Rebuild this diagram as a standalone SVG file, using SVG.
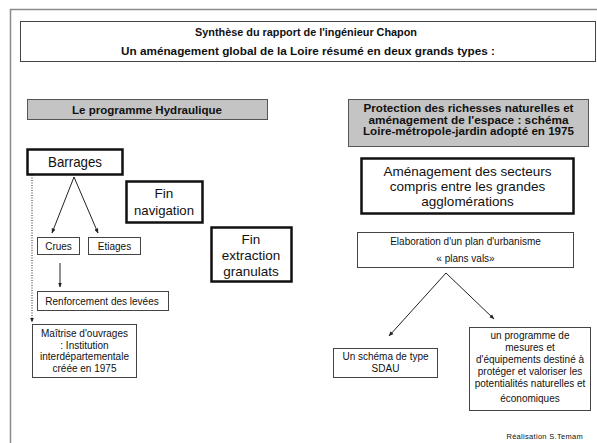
<svg xmlns="http://www.w3.org/2000/svg" width="597" height="443" viewBox="0 0 597 443">
<style>
.t{font-family:"Liberation Sans",Arial,sans-serif;fill:#111;text-anchor:middle}
.b{font-weight:bold}
.thin{fill:#fff;stroke:#444;stroke-width:1}
.thick{fill:#fff;stroke:#111;stroke-width:2.5}
.gray{fill:#c4c4c4;stroke:#555;stroke-width:1}
.ln{stroke:#222;stroke-width:1;fill:none}
</style>
<defs>
<marker id="ah" viewBox="0 0 10 10" refX="9" refY="5" markerWidth="5" markerHeight="5" orient="auto" markerUnits="strokeWidth">
<path d="M0,1 L10,5 L0,9 z" fill="#222"/>
</marker>
</defs>
<rect width="597" height="443" fill="#fff"/>
<path d="M10.5,443 V9.5 H597" fill="none" stroke="#8a8a8a" stroke-width="1.5"/>

<g id="title">
<rect class="thin" x="20.5" y="21.5" width="575" height="40"/>
<text class="t b" x="306" y="36" font-size="10.5" textLength="222" lengthAdjust="spacingAndGlyphs">Synthèse du rapport de l'ingénieur Chapon</text>
<text class="t b" x="308" y="55" font-size="10.5" textLength="374" lengthAdjust="spacingAndGlyphs">Un aménagement global de la Loire résumé en deux grands types :</text>
</g>

<g id="hydraulique">
<rect class="gray" x="27.5" y="99.5" width="240" height="20"/>
<text class="t b" x="147" y="113.5" font-size="10.5" textLength="150" lengthAdjust="spacingAndGlyphs">Le programme Hydraulique</text>
</g>

<g id="barrages">
<rect class="thick" x="27.5" y="149.5" width="95" height="25"/>
<text class="t" x="75" y="167" font-size="14.5" textLength="54" lengthAdjust="spacingAndGlyphs">Barrages</text>
</g>

<g id="fin-navigation">
<rect class="thick" x="126.5" y="181.5" width="76" height="41"/>
<text class="t" x="164" y="198" font-size="13.5">Fin</text>
<text class="t" x="164" y="215" font-size="13.5" textLength="60" lengthAdjust="spacingAndGlyphs">navigation</text>
</g>

<g id="fin-extraction">
<rect class="thick" x="211.5" y="227.5" width="80" height="54"/>
<text class="t" x="251" y="244" font-size="13.5">Fin</text>
<text class="t" x="251" y="260" font-size="13.5">extraction</text>
<text class="t" x="251" y="276" font-size="13.5">granulats</text>
</g>

<g id="crues">
<rect class="thin" x="37.5" y="237.5" width="42" height="17"/>
<text class="t" x="58.5" y="250" font-size="10">Crues</text>
</g>

<g id="etiages">
<rect class="thin" x="88.5" y="237.5" width="52" height="17"/>
<text class="t" x="114.5" y="250" font-size="10">Etiages</text>
</g>

<g id="renforcement">
<rect class="thin" x="37.5" y="291.5" width="131" height="19"/>
<text class="t" x="102" y="304.5" font-size="10">Renforcement des levées</text>
</g>

<g id="maitrise">
<rect class="thin" x="32.5" y="324.5" width="104" height="53"/>
<text class="t" x="84.5" y="337" font-size="10">Maîtrise d'ouvrages</text>
<text class="t" x="84.5" y="348.5" font-size="10">: Institution</text>
<text class="t" x="84.5" y="360" font-size="10">interdépartementale</text>
<text class="t" x="84.5" y="371.5" font-size="10">créée en 1975</text>
</g>

<g id="protection">
<rect class="gray" x="348.5" y="99.5" width="240" height="47"/>
<text class="t b" x="468.5" y="112" font-size="10.5" textLength="210" lengthAdjust="spacingAndGlyphs">Protection des richesses naturelles et</text>
<text class="t b" x="468.5" y="123.5" font-size="10.5" textLength="200" lengthAdjust="spacingAndGlyphs">aménagement de l'espace : schéma</text>
<text class="t b" x="468.5" y="135" font-size="10.5" textLength="211" lengthAdjust="spacingAndGlyphs">Loire-métropole-jardin adopté en 1975</text>
</g>

<g id="amenagement">
<rect class="thick" x="361.5" y="158.5" width="212" height="55"/>
<text class="t" x="467.5" y="176" font-size="13.5">Aménagement des secteurs</text>
<text class="t" x="467.5" y="191" font-size="13.5">compris entre les grandes</text>
<text class="t" x="467.5" y="206" font-size="13.5">agglomérations</text>
</g>

<g id="elaboration">
<rect class="thin" x="357.5" y="232.5" width="216" height="35"/>
<text class="t" x="465.5" y="245" font-size="10">Elaboration d'un plan d'urbanisme</text>
<text class="t" x="465.5" y="262" font-size="10">« plans vals»</text>
</g>

<g id="sdau">
<rect class="thin" x="333.5" y="348.5" width="104" height="29"/>
<text class="t" x="385.5" y="360" font-size="10">Un schéma de type</text>
<text class="t" x="385.5" y="372" font-size="10">SDAU</text>
</g>

<g id="programme">
<rect class="thin" x="469.5" y="327.5" width="121" height="83"/>
<text class="t" x="530" y="339" font-size="10">un programme de</text>
<text class="t" x="530" y="351" font-size="10">mesures et</text>
<text class="t" x="530" y="363" font-size="10">d'équipements destiné à</text>
<text class="t" x="530" y="375" font-size="10">protéger et valoriser les</text>
<text class="t" x="530" y="387" font-size="10">potentialités naturelles et</text>
<text class="t" x="530" y="402" font-size="10">économiques</text>
</g>

<text class="t" x="583" y="439" font-size="7.5" style="text-anchor:end;letter-spacing:0.3px">Réalisation S.Temam</text>

<g id="connectors">
<line class="ln" x1="74" y1="177" x2="52" y2="233" marker-end="url(#ah)"/>
<line class="ln" x1="74" y1="177" x2="98" y2="233" marker-end="url(#ah)"/>
<line class="ln" x1="60" y1="263" x2="60" y2="287" marker-end="url(#ah)"/>
<line class="ln" x1="32" y1="175" x2="32" y2="322" stroke-dasharray="1,1.5" marker-end="url(#ah)"/>
<line class="ln" x1="446" y1="273" x2="389" y2="336" marker-end="url(#ah)"/>
<line class="ln" x1="446" y1="273" x2="494" y2="319" marker-end="url(#ah)"/>
</g>
</svg>
